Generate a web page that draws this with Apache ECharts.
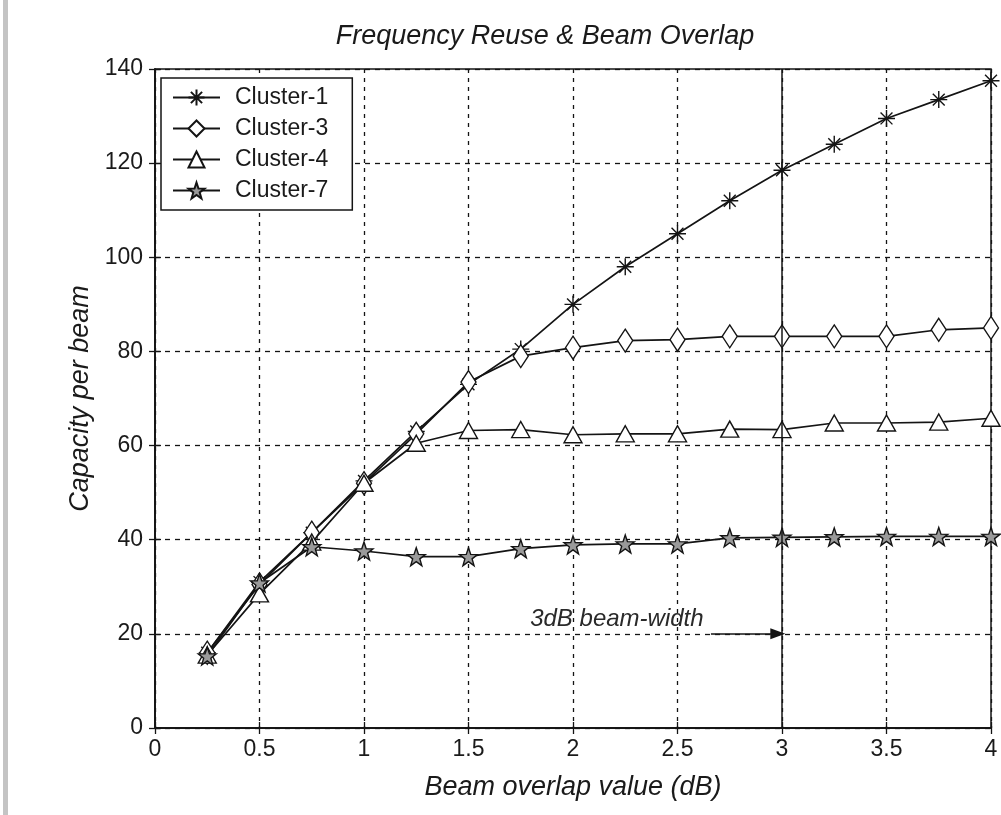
<!DOCTYPE html>
<html>
<head>
<meta charset="utf-8">
<title>Frequency Reuse &amp; Beam Overlap</title>
<script src="https://cdn.jsdelivr.net/npm/echarts@6/dist/echarts.min.js"></script>
<style>
  html, body { margin: 0; padding: 0; background: #fff; }
  #chart { width: 1001px; height: 815px; }
</style>
</head>
<body>
<div id="chart"></div>
<script>
// Beam overlap (dB) sample points
const overlap = [0.25, 0.5, 0.75, 1.0, 1.25, 1.5, 1.75, 2.0, 2.25, 2.5, 2.75, 3.0, 3.25, 3.5, 3.75, 4.0];

// Capacity per beam for each frequency-reuse cluster size
const cluster1 = [16, 31, 41.5, 52.5, 63, 73, 80.5, 90, 98, 105, 112, 118.5, 124, 129.5, 133.5, 137.5];
const cluster3 = [16, 30.5, 41.5, 52, 62.5, 73.5, 79, 80.8, 82.3, 82.5, 83.2, 83.2, 83.2, 83.2, 84.6, 85];
const cluster4 = [15.5, 28.5, 39.5, 52, 60.5, 63.2, 63.4, 62.3, 62.5, 62.5, 63.5, 63.4, 64.8, 64.8, 65, 65.8];
const cluster7 = [15.3, 30.8, 38.5, 37.6, 36.4, 36.4, 38.1, 38.9, 39.1, 39.1, 40.4, 40.5, 40.6, 40.7, 40.7, 40.7];

const seriesNames = ['Cluster-1', 'Cluster-3', 'Cluster-4', 'Cluster-7'];

// Axis ranges
const xRange = { min: 0, max: 4, interval: 0.5 };
const yRange = { min: 0, max: 140, interval: 20 };

// 3 dB beam-width marker
const beamWidthX = 3;
const beamWidthLabel = '3dB beam-width';
const arrowStartX = 2.66;
const arrowY = 20;
const labelPos = [2.21, 23];

const FONT = '"Liberation Sans", Arial, Helvetica, sans-serif';
const INK = '#141414';

const pair = (vals) => overlap.map((x, i) => [x, vals[i]]);

const asteriskPath = 'path://M0,-10L0,10M-10,0L10,0M-7,-7L7,7M-7,7L7,-7';
const starPath = 'path://M0,-10L2.35,-3.24L9.51,-3.09L3.8,1.24L5.88,8.09L0,4L-5.88,8.09L-3.8,1.24L-9.51,-3.09L-2.35,-3.24Z';

function curve(name, vals, symbol, size, fill) {
  return {
    name: name,
    type: 'line',
    data: pair(vals),
    symbol: symbol,
    symbolSize: size,
    symbolKeepAspect: false,
    showAllSymbol: true,
    lineStyle: { color: INK, width: 1.7 },
    itemStyle: { color: fill, borderColor: INK, borderWidth: 1.4 },
    emphasis: { disabled: true },
    animation: false,
    z: 3
  };
}

const gridAxisCommon = {
  min: 0,
  axisLine: { show: true, lineStyle: { color: INK, width: 1.5 } },
  axisTick: { show: true, inside: true, length: 6, lineStyle: { color: INK, width: 1.3 } },
  splitLine: { show: false },
  axisLabel: { show: false }
};

const option = {
  backgroundColor: '#fff',
  animation: false,
  grid: {
    left: 155, right: 10, top: 69, bottom: 87,
    show: true, borderColor: INK, borderWidth: 1.5, backgroundColor: 'transparent'
  },
  legend: {
    data: seriesNames,
    orient: 'vertical',
    left: 161, top: 78,
    padding: [8, 24, 8, 11],
    itemWidth: 47, itemHeight: 20, itemGap: 8,
    backgroundColor: '#fff',
    borderColor: INK, borderWidth: 1.5,
    textStyle: { fontFamily: FONT, fontSize: 23, color: '#1a1a1a', padding: [0, 0, 0, 10] },
    selectedMode: false
  },
  xAxis: [
    {
      type: 'value',
      min: xRange.min, max: xRange.max, interval: xRange.interval,
      name: 'Beam overlap value (dB)',
      nameLocation: 'middle', nameGap: 46,
      nameTextStyle: { fontFamily: FONT, fontStyle: 'italic', fontSize: 27, color: '#1a1a1a' },
      axisLine: { show: true, lineStyle: { color: INK, width: 1.5 } },
      axisTick: { show: true, inside: true, length: 6, lineStyle: { color: INK, width: 1.3 } },
      axisLabel: { fontFamily: FONT, fontSize: 23, color: '#1a1a1a', margin: 10 },
      splitLine: { show: true, lineStyle: { color: INK, width: 1.3, type: [4, 5] } }
    },
    Object.assign({}, gridAxisCommon, {
      type: 'value', position: 'top',
      min: xRange.min, max: xRange.max, interval: xRange.interval
    })
  ],
  yAxis: [
    {
      type: 'value',
      min: yRange.min, max: yRange.max, interval: yRange.interval,
      name: 'Capacity per beam',
      nameLocation: 'middle', nameGap: 56, nameRotate: 90,
      nameTextStyle: { fontFamily: FONT, fontStyle: 'italic', fontSize: 27, color: '#1a1a1a' },
      axisLine: { show: true, lineStyle: { color: INK, width: 1.5 } },
      axisTick: { show: true, inside: true, length: 6, lineStyle: { color: INK, width: 1.3 } },
      axisLabel: { fontFamily: FONT, fontSize: 23, color: '#1a1a1a', margin: 12 },
      splitLine: { show: true, lineStyle: { color: INK, width: 1.3, type: [5, 5] } }
    },
    Object.assign({}, gridAxisCommon, {
      type: 'value', position: 'right',
      min: yRange.min, max: yRange.max, interval: yRange.interval
    })
  ],
  graphic: [
    {
      type: 'rect', left: 3, top: 0, silent: true,
      shape: { width: 5, height: 815 },
      style: { fill: '#c4c4c4' }
    },
    {
      type: 'text', x: 545, y: 36, silent: true,
      style: {
        text: 'Frequency Reuse & Beam Overlap',
        fontFamily: FONT, fontStyle: 'italic', fontSize: 27, fill: '#1a1a1a',
        textAlign: 'center', textVerticalAlign: 'middle'
      }
    }
  ],
  series: [
    curve(seriesNames[0], cluster1, asteriskPath, 17, INK),
    curve(seriesNames[1], cluster3, 'diamond', [15, 23], '#fff'),
    curve(seriesNames[2], cluster4, 'triangle', [18, 16], '#fff'),
    curve(seriesNames[3], cluster7, starPath, 18, '#9a9a9a'),
    {
      name: 'beam-width marker',
      type: 'line',
      data: [],
      silent: true,
      z: 2,
      markLine: {
        silent: true,
        animation: false,
        symbol: ['none', 'none'],
        label: { show: false },
        emphasis: { disabled: true },
        data: [
          { xAxis: beamWidthX, lineStyle: { type: 'solid', color: INK, width: 1.5 } },
          [
            { coord: [arrowStartX, arrowY], symbol: 'none' },
            { coord: [beamWidthX - 0.02, arrowY], symbol: 'triangle', symbolSize: [11, 15] }
          ]
        ],
        lineStyle: { type: 'solid', color: INK, width: 1.6 },
        itemStyle: { color: '#777', borderColor: INK, borderWidth: 1 }
      },
      markPoint: {
        silent: true,
        animation: false,
        symbol: 'rect', symbolSize: 0,
        data: [{ coord: labelPos, value: beamWidthLabel }],
        label: {
          show: true, position: 'inside', formatter: beamWidthLabel,
          fontFamily: FONT, fontStyle: 'italic', fontSize: 24, color: '#2a2a2a'
        }
      }
    }
  ]
};

const chart = echarts.init(document.getElementById('chart'));
chart.setOption(option);
</script>
</body>
</html>
